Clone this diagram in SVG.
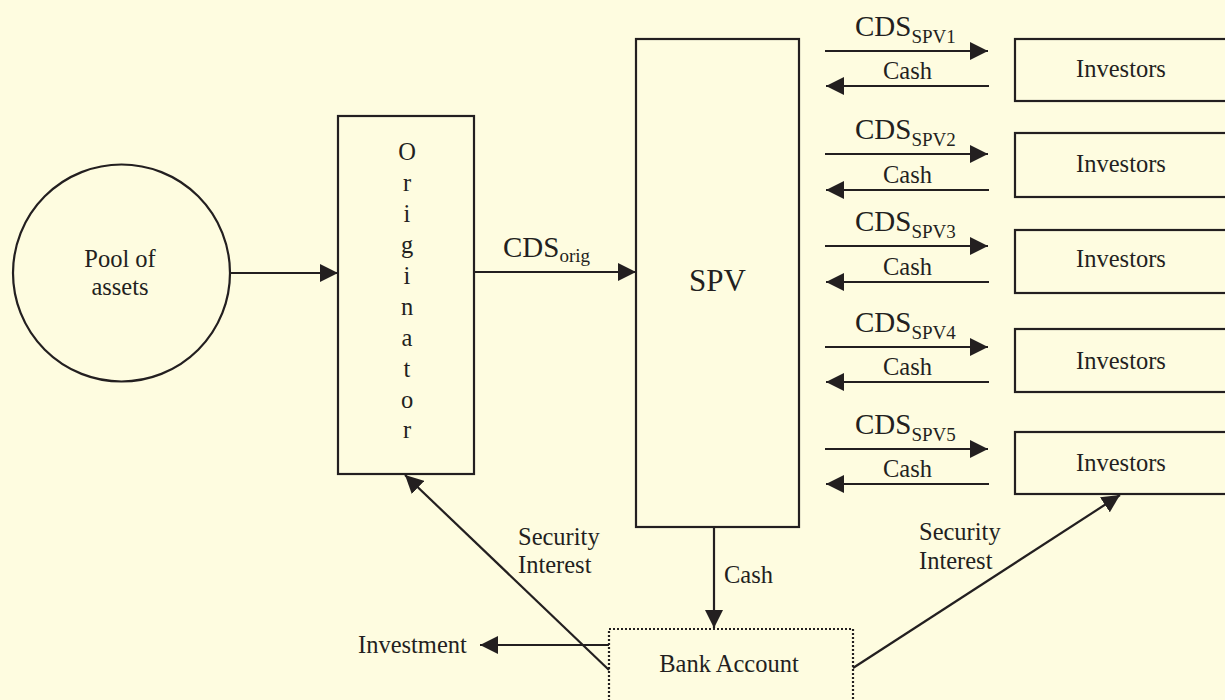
<svg xmlns="http://www.w3.org/2000/svg" width="1225" height="700" viewBox="0 0 1225 700" font-family="'Liberation Serif', 'Times New Roman', serif">
<defs>
<style>
.bg{fill:#FEFCE0}
.box{fill:none;stroke:#231f20;stroke-width:2.2}
.dot{fill:none;stroke:#231f20;stroke-width:2.2;stroke-dasharray:2 2}
.ln{fill:none;stroke:#231f20;stroke-width:2.2;marker-end:url(#ah)}
text{font-family:'Liberation Serif','Times New Roman',serif;fill:#231f20}
.t{font-size:24.5px}
.c{text-anchor:middle}
.big{font-size:29px}
.sub{font-size:19px}
</style>
<marker id="ah" markerUnits="userSpaceOnUse" markerWidth="18" markerHeight="18" refX="18" refY="9" orient="auto" viewBox="0 0 18 18">
<path d="M0,0 L18,9 L0,18 z" fill="#231f20"/>
</marker>
</defs>
<rect class="bg" x="0" y="0" width="1225" height="700"/>

<g id="pool">
<circle class="box" cx="121.5" cy="273" r="108.5"/>
<text class="t c" x="120" y="267">Pool of</text>
<text class="t c" x="120" y="295">assets</text>
</g>

<g id="originator">
<rect class="box" x="338" y="116" width="136" height="358"/>
<text class="t c" x="407" y="160">O</text>
<text class="t c" x="407" y="191">r</text>
<text class="t c" x="407" y="222">i</text>
<text class="t c" x="407" y="253">g</text>
<text class="t c" x="407" y="284">i</text>
<text class="t c" x="407" y="315">n</text>
<text class="t c" x="407" y="346">a</text>
<text class="t c" x="407" y="377">t</text>
<text class="t c" x="407" y="408">o</text>
<text class="t c" x="407" y="438">r</text>
</g>

<g id="spv">
<rect class="box" x="636" y="39" width="163" height="488"/>
<text class="c" x="717.5" y="291" font-size="31">SPV</text>
</g>

<g id="investors1">
<rect class="box" x="1015" y="39" width="215" height="62"/>
<text class="t c" x="1121" y="77">Investors</text>
</g>
<g id="investors2">
<rect class="box" x="1015" y="133" width="215" height="64"/>
<text class="t c" x="1121" y="172">Investors</text>
</g>
<g id="investors3">
<rect class="box" x="1015" y="230" width="215" height="63"/>
<text class="t c" x="1121" y="267">Investors</text>
</g>
<g id="investors4">
<rect class="box" x="1015" y="329" width="215" height="63"/>
<text class="t c" x="1121" y="369">Investors</text>
</g>
<g id="investors5">
<rect class="box" x="1015" y="432" width="215" height="62"/>
<text class="t c" x="1121" y="471">Investors</text>
</g>

<g id="bank">
<rect class="dot" x="609" y="629" width="244" height="90"/>
<text class="t c" x="729" y="672">Bank Account</text>
</g>

<g id="connectors">
<line class="ln" x1="230" y1="273" x2="338" y2="273"/>
<line class="ln" x1="474" y1="272" x2="636" y2="272"/>
<text class="big" x="503" y="257">CDS<tspan class="sub" dy="5">orig</tspan></text>

<line class="ln" x1="825" y1="51" x2="988" y2="51"/>
<line class="ln" x1="989" y1="86" x2="826" y2="86"/>
<text class="big" x="855" y="36">CDS<tspan class="sub" dy="7">SPV1</tspan></text>
<text class="t" x="883" y="79">Cash</text>

<line class="ln" x1="825" y1="154" x2="988" y2="154"/>
<line class="ln" x1="989" y1="190" x2="826" y2="190"/>
<text class="big" x="855" y="139">CDS<tspan class="sub" dy="7">SPV2</tspan></text>
<text class="t" x="883" y="183">Cash</text>

<line class="ln" x1="825" y1="246" x2="988" y2="246"/>
<line class="ln" x1="989" y1="282" x2="826" y2="282"/>
<text class="big" x="855" y="231">CDS<tspan class="sub" dy="7">SPV3</tspan></text>
<text class="t" x="883" y="275">Cash</text>

<line class="ln" x1="825" y1="347" x2="988" y2="347"/>
<line class="ln" x1="989" y1="382" x2="826" y2="382"/>
<text class="big" x="855" y="332">CDS<tspan class="sub" dy="7">SPV4</tspan></text>
<text class="t" x="883" y="375">Cash</text>

<line class="ln" x1="825" y1="449" x2="988" y2="449"/>
<line class="ln" x1="989" y1="484" x2="826" y2="484"/>
<text class="big" x="855" y="434">CDS<tspan class="sub" dy="7">SPV5</tspan></text>
<text class="t" x="883" y="477">Cash</text>

<line class="ln" x1="714" y1="527" x2="714" y2="628"/>
<text class="t" x="724" y="583">Cash</text>

<line class="ln" x1="609" y1="670" x2="405" y2="475"/>
<text class="t" x="518" y="545">Security</text>
<text class="t" x="518" y="573">Interest</text>

<line class="ln" x1="609" y1="645" x2="480" y2="645"/>
<text class="t" x="358" y="653">Investment</text>

<line class="ln" x1="853" y1="668" x2="1120" y2="495"/>
<text class="t" x="919" y="540">Security</text>
<text class="t" x="919" y="569">Interest</text>
</g>
</svg>
